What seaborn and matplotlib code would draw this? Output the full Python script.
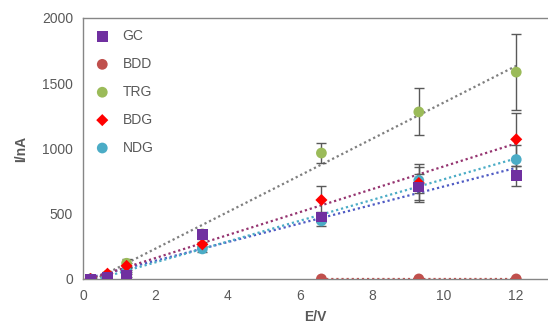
import numpy as np
import pandas as pd
import seaborn as sns
from matplotlib import pyplot as plt

# data -->
voltage = [0.2, 0.67, 1.2, 3.3, 6.6, 9.3, 12]
series_names = ['GC', 'BDD', 'TRG', 'BDG', 'NDG']
gc = [0, 15, 25, 340, 475, 705, 790]
bdd = [np.nan, np.nan, np.nan, np.nan, 0, 0, 0]
trg = [0, 30, 120, 345, 965, 1280, 1585]
bdg = [0, 40, 100, 265, 605, 735, 1070]
ndg = [0, 20, 60, 230, 445, 755, 915]
gc_err = [5, 5, 10, 35, 40, 100, 75]
bdd_err = [0, 0, 0, 0, 0, 0, 0]
trg_err = [5, 10, 30, 30, 80, 180, 290]
bdg_err = [5, 10, 20, 20, 110, 145, 205]
ndg_err = [5, 5, 10, 20, 40, 100, 110]

rows = []
for name, vals, errs in zip(series_names, [gc, bdd, trg, bdg, ndg],
                            [gc_err, bdd_err, trg_err, bdg_err, ndg_err]):
    for x, y, e in zip(voltage, vals, errs):
        rows.append({'E/V': x, 'I/nA': y, 'err': e, 'electrode': name})
df = pd.DataFrame(rows).dropna()

# styles -->
colors = {'GC': '#7030A0', 'BDD': '#C0504D', 'TRG': '#9BBB59', 'BDG': '#FF0000', 'NDG': '#4BACC6'}
markers = {'GC': 's', 'BDD': 'o', 'TRG': 'o', 'BDG': 'D', 'NDG': 'o'}
sizes = {'GC': 60, 'BDD': 60, 'TRG': 60, 'BDG': 38, 'NDG': 60}
layer = {'GC': 3.5, 'BDD': 3, 'TRG': 3, 'BDG': 3.2, 'NDG': 3.1}
trend_colors = {'GC': '#4F5BC4', 'BDD': '#C0504D', 'TRG': '#7F7F7F', 'BDG': '#953470', 'NDG': '#4BACC6'}

sns.set_style('white')
plt.rcParams['font.family'] = ['Liberation Sans', 'DejaVu Sans']
grey = '#595959'

fig = plt.figure(figsize=(5.48, 3.27), dpi=100)
ax = fig.add_axes([0.152, 0.147, 0.846, 0.798])

# trendlines -->
for name in series_names:
    sub = df[df['electrode'] == name]
    sns.regplot(data=sub, x='E/V', y='I/nA', scatter=False, ci=None, ax=ax,
                line_kws=dict(color=trend_colors[name], ls=(0, (1, 1.3)), lw=1.6))

# error bars -->
for name in series_names:
    sub = df[df['electrode'] == name]
    ax.errorbar(sub['E/V'], sub['I/nA'], yerr=sub['err'], fmt='none',
                ecolor=grey, elinewidth=1.0, capsize=3.5, capthick=1.0, zorder=2)

# markers -->
for name in series_names:
    sub = df[df['electrode'] == name]
    sns.scatterplot(data=sub, x='E/V', y='I/nA', marker=markers[name], s=sizes[name],
                    color=colors[name], edgecolor='none', label=name, ax=ax, zorder=layer[name])

ax.set_xlim(0, 12.85)
ax.set_ylim(0, 2000)
ax.set_xticks([0, 2, 4, 6, 8, 10, 12])
ax.set_yticks([0, 500, 1000, 1500, 2000])
ax.set_xlabel('E/V', fontsize=10, fontweight='bold', color=grey, labelpad=5)
ax.set_ylabel('I/nA', fontsize=10, fontweight='bold', color=grey, labelpad=10)
ax.tick_params(axis='both', labelsize=10, colors=grey, length=4, width=1, direction='out')
ax.tick_params(axis='both', labelcolor=grey)
for side in ['left', 'bottom', 'top']:
    ax.spines[side].set_color('#868686')
    ax.spines[side].set_linewidth(1.0)
ax.spines['right'].set_visible(False)

leg = ax.legend(loc='upper left', frameon=False, fontsize=10, labelspacing=1.0,
                handletextpad=0.45, borderaxespad=0.4, bbox_to_anchor=(-0.013, 1.0))
for t in leg.get_texts():
    t.set_color(grey)

fig.savefig('out.png', dpi=100)
